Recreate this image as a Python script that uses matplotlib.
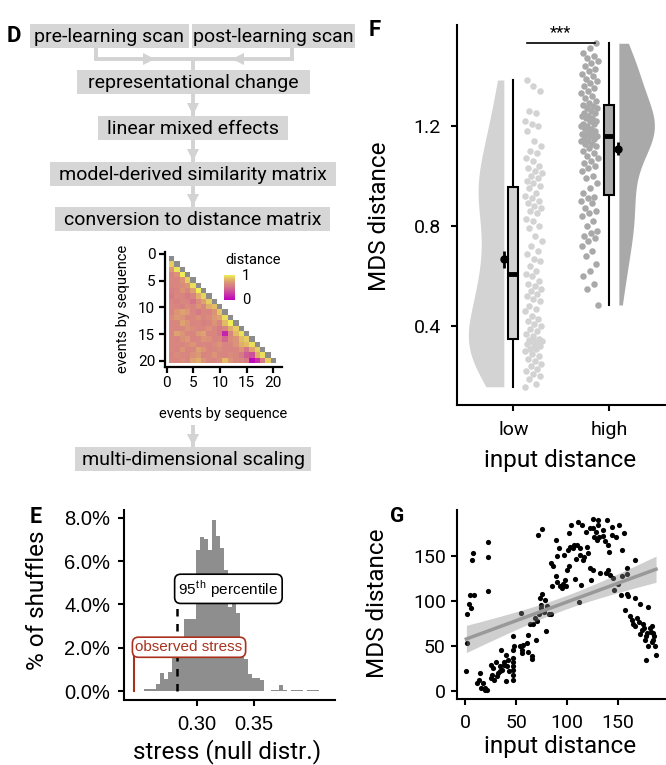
import numpy as np
import matplotlib.pyplot as plt
from matplotlib.patches import Rectangle, Polygon
from matplotlib.colors import LinearSegmentedColormap, ListedColormap

plt.rcParams['font.family'] = ['Roboto', 'DejaVu Sans']
plt.rcParams['mathtext.fontset'] = 'custom'
plt.rcParams['mathtext.rm'] = 'Liberation Sans'

# ================================ data
flow_top = ['pre-learning scan', 'post-learning scan']
flow_steps = ['representational change', 'linear mixed effects',
              'model-derived similarity matrix', 'conversion to distance matrix']
flow_last = 'multi-dimensional scaling'

# lower triangle of the distance matrix: row k lists events 1..k-1 vs event k
dist_rows = [
    [0.90],
    [0.72, 0.97],
    [0.60, 0.68, 1.00],
    [0.62, 0.60, 0.70, 0.90],
    [0.60, 0.62, 0.65, 0.70, 0.95],
    [0.58, 0.60, 0.70, 0.62, 0.75, 1.00],
    [0.55, 0.62, 0.60, 0.55, 0.60, 0.80, 0.92],
    [0.60, 0.58, 0.62, 0.60, 0.50, 0.65, 0.75, 0.90],
    [0.62, 0.60, 0.58, 0.65, 0.60, 0.70, 0.62, 0.80, 0.85],
    [0.60, 0.70, 0.75, 0.72, 0.60, 0.55, 0.62, 0.60, 0.70, 0.88],
    [0.65, 0.72, 0.70, 0.60, 0.62, 0.68, 0.60, 0.65, 0.72, 0.75, 0.95],
    [0.60, 0.62, 0.75, 0.70, 0.60, 0.62, 0.58, 0.60, 0.70, 0.60, 0.85, 1.00],
    [0.62, 0.60, 0.62, 0.70, 0.65, 0.60, 0.62, 0.68, 0.60, 0.55, 0.60, 0.80, 0.90],
    [0.60, 0.75, 0.70, 0.62, 0.60, 0.72, 0.75, 0.60, 0.62, 0.55, 0.15, 0.60, 0.85, 0.95],
    [0.62, 0.60, 0.68, 0.72, 0.60, 0.62, 0.70, 0.68, 0.60, 0.62, 0.45, 0.65, 0.70, 0.85, 0.90],
    [0.60, 0.62, 0.60, 0.65, 0.70, 0.60, 0.62, 0.60, 0.65, 0.70, 0.60, 0.62, 0.70, 0.80, 0.85, 0.95],
    [0.62, 0.60, 0.70, 0.60, 0.62, 0.75, 0.70, 0.60, 0.62, 0.65, 0.60, 0.60, 0.62, 0.70, 0.50, 0.75, 0.90],
    [0.60, 0.65, 0.62, 0.60, 0.68, 0.72, 0.60, 0.62, 0.70, 0.62, 0.60, 0.65, 0.62, 0.55, 0.40, 0.35, 0.80, 0.95],
    [0.62, 0.60, 0.65, 0.60, 0.75, 0.80, 0.70, 0.62, 0.60, 0.65, 0.85, 0.70, 0.62, 0.60, 0.55, 0.05, 0.20, 0.55, 0.90],
]

# null distribution of stress (percent of shuffles per bin)
stress_start = 0.2535
stress_binw = 0.0035
stress_pct = [0.1, 0.1, 0.1, 0.35, 0.85, 0.55, 0.9, 2.0, 2.0, 2.05, 3.35, 3.35, 3.35,
              6.5, 7.1, 7.0, 6.5, 7.9, 7.15, 6.6, 5.6, 3.9, 4.0, 3.6, 1.75, 1.5, 0.8,
              0.6, 0.6, 0.5, 0, 0, 0.08, 0.08, 0.3, 0.08, 0, 0.08, 0.08, 0.08, 0,
              0.08, 0.08, 0.08]
stress_p95 = 0.2825
stress_observed = 0.2446

# MDS distance split by input distance
mds_low = [0.157, 0.17, 0.19, 0.20, 0.21, 0.22, 0.23, 0.24, 0.25, 0.26, 0.27, 0.28,
           0.29, 0.30, 0.31, 0.31, 0.32, 0.32, 0.33, 0.33, 0.34, 0.34, 0.34, 0.344,
           0.35, 0.36, 0.37, 0.38, 0.39, 0.40, 0.41, 0.42, 0.43, 0.44, 0.46, 0.47,
           0.48, 0.50, 0.51, 0.52, 0.53, 0.54, 0.55, 0.56, 0.57, 0.58, 0.60, 0.61,
           0.62, 0.64, 0.66, 0.67, 0.69, 0.70, 0.72, 0.74, 0.76, 0.79, 0.80, 0.82,
           0.83, 0.85, 0.86, 0.87, 0.88, 0.89, 0.90, 0.91, 0.92, 0.93, 0.95, 0.96,
           0.97, 0.98, 0.99, 1.00, 1.01, 1.02, 1.03, 1.04, 1.06, 1.07, 1.09, 1.10,
           1.12, 1.14, 1.18, 1.20, 1.21, 1.22, 1.25, 1.26, 1.34, 1.36, 1.384]
mds_high = [0.484, 0.55, 0.57, 0.60, 0.62, 0.65, 0.68, 0.70, 0.72, 0.74, 0.75, 0.76,
            0.77, 0.78, 0.80, 0.82, 0.84, 0.85, 0.86, 0.87, 0.89, 0.90, 0.91, 0.915,
            0.93, 0.95, 0.97, 0.99, 1.00, 1.02, 1.03, 1.04, 1.05, 1.06, 1.07, 1.08,
            1.09, 1.10, 1.11, 1.12, 1.13, 1.13, 1.14, 1.14, 1.15, 1.15, 1.16, 1.16,
            1.165, 1.17, 1.17, 1.18, 1.18, 1.19, 1.19, 1.20, 1.20, 1.21, 1.21, 1.22,
            1.22, 1.23, 1.23, 1.24, 1.24, 1.25, 1.25, 1.26, 1.27, 1.27, 1.28, 1.285,
            1.29, 1.30, 1.31, 1.32, 1.33, 1.34, 1.35, 1.36, 1.37, 1.38, 1.39, 1.40,
            1.41, 1.42, 1.43, 1.44, 1.45, 1.46, 1.47, 1.48, 1.49, 1.51, 1.531]
groups = ['low', 'high']

# input distance vs MDS distance, one pair per event pair
pairs = [(1, 22), (2, 54), (2, 85), (4, 97), (5, 107), (6, 92), (7, 145), (8, 153), (9, 106),
         (12, 9), (14, 20), (13, 13), (15, 4), (17, 9), (19, 2), (22, 165), (22, 148), (22, 111),
         (21, 2), (19, 4), (25, 15), (26, 18), (27, 26), (25, 29), (28, 13), (30, 33), (31, 17),
         (32, 20), (34, 22), (34, 28), (36, 24), (35, 46), (38, 29), (38, 33), (40, 11), (40, 40),
         (41, 28), (42, 35), (43, 22), (47, 13), (47, 18), (47, 24), (47, 28), (47, 32), (47, 37),
         (47, 46), (47, 61), (48, 50), (55, 87), (54, 50), (56, 42), (56, 46), (57, 51), (61, 53),
         (62, 62), (62, 44), (66, 39), (66, 36), (64, 75), (67, 74), (69, 81), (70, 57), (71, 78),
         (72, 173), (76, 179), (74, 103), (75, 92), (73, 86), (75, 96), (76, 108), (78, 88),
         (79, 101), (80, 67), (81, 94), (82, 85), (84, 86), (85, 116), (84, 142), (86, 139),
         (89, 167), (90, 150), (89, 127), (90, 121), (92, 158), (93, 116), (95, 114), (96, 119),
         (97, 151), (98, 123), (99, 116), (100, 134), (102, 139), (101, 156), (102, 175),
         (103, 160), (104, 184), (106, 158), (107, 162), (108, 124), (109, 146), (110, 162),
         (111, 187), (113, 151), (113, 158), (115, 184), (116, 145), (117, 149), (112, 99),
         (114, 117), (119, 176), (120, 160), (121, 153), (123, 180), (126, 190), (126, 180),
         (127, 171), (129, 176), (130, 167), (131, 189), (131, 184), (132, 171), (123, 136),
         (124, 123), (126, 134), (133, 131), (136, 172), (136, 178), (138, 166), (139, 131),
         (140, 189), (141, 162), (141, 134), (142, 154), (143, 129), (145, 173), (145, 182),
         (146, 125), (147, 112), (149, 171), (150, 119), (151, 184), (153, 107), (154, 127),
         (154, 156), (156, 175), (157, 90), (159, 108), (159, 136), (160, 105), (159, 130),
         (162, 83), (164, 79), (167, 145), (167, 103), (165, 74), (167, 72), (169, 81), (171, 77),
         (172, 97), (172, 63), (174, 68), (175, 75), (176, 70), (177, 57), (178, 61), (179, 64),
         (178, 35), (180, 93), (182, 70), (183, 66), (184, 72), (185, 64), (185, 57), (187, 50),
         (188, 40), (186, 61), (184, 55), (180, 50)]

# ================================ layout helpers (pixel coords)
W, H = 666, 765
fig = plt.figure(figsize=(W / 100, H / 100), dpi=100)


def add_ax(l, t, r, b, **kw):
    return fig.add_axes([l / W, 1 - b / H, (r - l) / W, (b - t) / H], **kw)


def style(ax, lw=1.5, ticklen=4):
    for s in ['top', 'right']:
        ax.spines[s].set_visible(False)
    for s in ['left', 'bottom']:
        ax.spines[s].set_linewidth(lw)
    ax.tick_params(width=lw, length=ticklen, colors='black')


ov = fig.add_axes([0, 0, 1, 1], zorder=10)
ov.set_xlim(0, W)
ov.set_ylim(H, 0)
ov.axis('off')
ov.patch.set_alpha(0)

box_col = '#d6d6d6'
arr_col = '#d3d3d3'


def fbox(x0, x1, y0, y1, text, fs=14):
    ov.add_patch(Rectangle((x0, y0), x1 - x0, y1 - y0, color=box_col, lw=0))
    ov.text((x0 + x1) / 2, (y0 + y1) / 2 + 1, text, ha='center', va='center', fontsize=fs)


def head(x, y, direction):
    w, h = 6, 12
    if direction == 'down':
        pts = [(x - w, y - h), (x + w, y - h), (x, y)]
    elif direction == 'right':
        pts = [(x - h, y - w), (x - h, y + w), (x, y)]
    else:
        pts = [(x + h, y - w), (x + h, y + w), (x, y)]
    ov.add_patch(Polygon(pts, closed=True, color=arr_col, lw=0))


def vline(x, y0, y1, tip=None):
    ov.plot([x, x], [y0, y1], color=arr_col, lw=2.8, solid_capstyle='butt')
    if tip is not None:
        head(x, tip, 'down')


# ---------------- panel D: flow chart
ov.text(7, 36, 'D', fontsize=16, fontweight='bold', va='center')
fbox(30, 189, 24, 48, flow_top[0])
fbox(192, 355, 24, 48, flow_top[1])
vline(96, 48, 60)
vline(292, 48, 60)
ov.plot([96, 292], [59, 59], color=arr_col, lw=2.8)
head(155, 59, 'right')
head(232, 59, 'left')
vline(193, 59, 70)
fbox(77, 310, 70, 94, flow_steps[0])
vline(193, 94, 116, tip=115)
fbox(98, 288, 116, 140, flow_steps[1])
vline(193, 140, 162, tip=161)
fbox(50, 336, 162, 186, flow_steps[2])
vline(193, 186, 207, tip=206)
fbox(55, 330, 207, 231, flow_steps[3])
vline(193, 425, 447, tip=446)
fbox(75, 311, 447, 471, flow_last)

# heat map
n_ev = len(dist_rows) + 1
mat = np.full((n_ev, n_ev), np.nan)
for k, row in enumerate(dist_rows):
    mat[k + 1, :len(row)] = row
diag = np.full((n_ev, n_ev), np.nan)
np.fill_diagonal(diag, 1)
cmap = LinearSegmentedColormap.from_list(
    'dist', [(0, '#c000c0'), (0.5, '#d4748a'), (0.7, '#dc9478'), (0.85, '#e2bc66'), (1, '#f0ee58')])
cmap.set_bad((1, 1, 1, 0))
grey = ListedColormap(['#8c8c8c'])
grey.set_bad((1, 1, 1, 0))

axH = add_ax(165, 251.7, 281.7, 366.7)
ext = (0.5, n_ev + 0.5, n_ev + 0.5, 0.5)
axH.imshow(np.ma.masked_invalid(mat), cmap=cmap, vmin=0, vmax=1, extent=ext,
           interpolation='nearest', aspect='auto')
axH.imshow(np.ma.masked_invalid(diag), cmap=grey, extent=ext, interpolation='nearest', aspect='auto')
axH.set_xlim(-0.32, 21.56)
axH.set_ylim(21.1, -0.43)
style(axH, lw=1.6, ticklen=4)
axH.set_xticks([0, 5, 10, 15, 20])
axH.set_yticks([0, 5, 10, 15, 20])
axH.tick_params(labelsize=11, pad=3)
axH.set_xlabel('events by sequence', fontsize=10.5, labelpad=12)
axH.set_ylabel('events by sequence', fontsize=10.5, labelpad=6)

axC = add_ax(224, 275, 235, 300)
axC.imshow(np.linspace(1, 0, 100)[:, None], cmap=cmap, aspect='auto', extent=(0, 1, 0, 1))
axC.axis('off')
ov.text(225, 260, 'distance', fontsize=10.5, va='center')
ov.text(242, 276, '1', fontsize=10.5, va='center')
ov.text(242, 300, '0', fontsize=10.5, va='center')

# ---------------- panel E: stress null distribution
axE = add_ax(124, 510, 335, 700)
edges = stress_start + stress_binw * np.arange(len(stress_pct))
axE.bar(edges, stress_pct, width=stress_binw, align='edge', color='#8e8e8e', lw=0)
axE.set_xlim(0.2355, 0.4215)
axE.set_ylim(-0.4, 8.35)
style(axE)
axE.set_xticks([0.30, 0.35])
axE.set_xticklabels(['0.30', '0.35'], fontsize=14.5, family='Liberation Sans')
axE.set_yticks([0, 2, 4, 6, 8])
axE.set_yticklabels(['%.1f%%' % v for v in [0, 2, 4, 6, 8]], fontsize=14.5, family='Liberation Sans')
axE.tick_params(axis='y', pad=6)
axE.tick_params(axis='x', pad=7)
axE.plot([stress_p95, stress_p95], [0, 4.0], color='black', lw=1.8, ls=(0, (3, 3)))
axE.text(stress_p95 + 0.001, 4.72, r'95$^{\mathrm{t\,h}}$ percentile', fontsize=11,
         family='Liberation Sans', va='center', ha='left',
         bbox=dict(boxstyle='round,pad=0.25,rounding_size=0.4', fc='white', ec='black', lw=1.2))
red = '#a8321e'
axE.plot([stress_observed, stress_observed], [0, 1.8], color=red, lw=1.5)
axE.text(stress_observed + 0.001, 2.03, 'observed stress', fontsize=11, color=red,
         family='Liberation Sans', va='center', ha='left',
         bbox=dict(boxstyle='round,pad=0.2,rounding_size=0.4', fc='white', ec=red, lw=1.2))
ov.text(30, 517, 'E', fontsize=15.5, fontweight='bold', va='center')
ov.text(38, 600, '% of shuffles', fontsize=17.5, rotation=90, ha='center', va='center')
ov.text(227, 752, 'stress (null distr.)', fontsize=17.5, ha='center', va='center')

# ---------------- panel F: raincloud
axF = add_ax(457, 25, 666, 405)
light, dark = '#d3d3d3', '#a9a9a9'


def kde_shape(vals, grid):
    v = np.asarray(vals)
    sd = v.std(ddof=1)
    iqr = np.subtract(*np.percentile(v, [75, 25]))
    bw = 0.9 * min(sd, iqr / 1.34) * len(v) ** -0.2
    d = np.exp(-0.5 * ((grid[:, None] - v[None, :]) / bw) ** 2).sum(1)
    return d / d.max()


for pos, vals, col, side in [(1, mds_low, light, -1), (2, mds_high, dark, 1)]:
    v = np.asarray(vals)
    grid = np.linspace(v.min(), v.max(), 300)
    w = 0.37 * kde_shape(v, grid)
    edge = pos + side * 0.099
    axF.fill_betweenx(grid, edge, edge + side * w, color=col, lw=0)
    # jittered points on the other side of the box
    k = np.arange(len(v))
    frac = (k * 0.6180339887) % 1
    jx = pos - side * (0.12 + 0.18 * frac)
    axF.scatter(jx, v, s=22, color=col, lw=0, zorder=2)
    q1, med, q3 = np.percentile(v, [25, 50, 75])
    axF.plot([pos, pos], [v.min(), q1], color='black', lw=1.5, zorder=3)
    axF.plot([pos, pos], [q3, v.max()], color='black', lw=1.5, zorder=3)
    axF.add_patch(Rectangle((pos - 0.052, q1), 0.104, q3 - q1, fc=col, ec='black', lw=1.5, zorder=3))
    axF.plot([pos - 0.052, pos + 0.052], [med, med], color='black', lw=3.5, zorder=4,
             solid_capstyle='butt')
    se = v.std(ddof=1) / np.sqrt(len(v))
    axF.errorbar(pos + side * 0.095, v.mean(), yerr=se, fmt='o', color='black', ms=5,
                 elinewidth=2, capsize=0, zorder=5)

axF.plot([1.14, 1.85], [1.533, 1.533], color='black', lw=1.2)
axF.text(1.495, 1.545, '***', ha='center', va='bottom', fontsize=12)
axF.set_xlim(0.413, 2.59)
axF.set_ylim(0.084, 1.604)
style(axF, ticklen=4.5)
axF.set_xticks([1, 2])
axF.set_xticklabels(groups, fontsize=14)
axF.set_yticks([0.4, 0.8, 1.2])
axF.set_yticklabels(['0.4', '0.8', '1.2'], fontsize=14)
axF.tick_params(axis='y', pad=7)
axF.tick_params(axis='x', pad=7)
ov.text(369, 30, 'F', fontsize=16, fontweight='bold', va='center')
ov.text(379, 216, 'MDS distance', fontsize=17.5, rotation=90, ha='center', va='center')
ov.text(560, 460, 'input distance', fontsize=17.5, ha='center', va='center')

# ---------------- panel G: scatter + regression
axG = add_ax(457, 510, 666, 699)
gx = np.array([p[0] for p in pairs], float)
gy = np.array([p[1] for p in pairs], float)
axG.scatter(gx, gy, s=14, color='black', lw=0, zorder=2)
slope, icpt = np.polyfit(gx, gy, 1)
xs = np.linspace(gx.min(), gx.max(), 100)
fit = icpt + slope * xs
res = gy - (icpt + slope * gx)
s_err = np.sqrt((res ** 2).sum() / (len(gx) - 2))
ci = 1.97 * s_err * np.sqrt(1 / len(gx) + (xs - gx.mean()) ** 2 / ((gx - gx.mean()) ** 2).sum())
axG.fill_between(xs, fit - ci, fit + ci, color='#888888', alpha=0.4, lw=0, zorder=3)
axG.plot(xs, fit, color='#999999', lw=2.5, zorder=4)
axG.set_xlim(-8.2, 197.8)
axG.set_ylim(-8.4, 200.4)
style(axG, ticklen=4.5)
axG.set_xticks([0, 50, 100, 150])
axG.set_yticks([0, 50, 100, 150])
axG.tick_params(labelsize=14)
axG.tick_params(axis='x', pad=6)
ov.text(390, 516, 'G', fontsize=15, fontweight='bold', va='center')
ov.text(377, 603, 'MDS distance', fontsize=17.5, rotation=90, ha='center', va='center')
ov.text(560, 747, 'input distance', fontsize=17.5, ha='center', va='center')

fig.savefig('out.png', dpi=100)
